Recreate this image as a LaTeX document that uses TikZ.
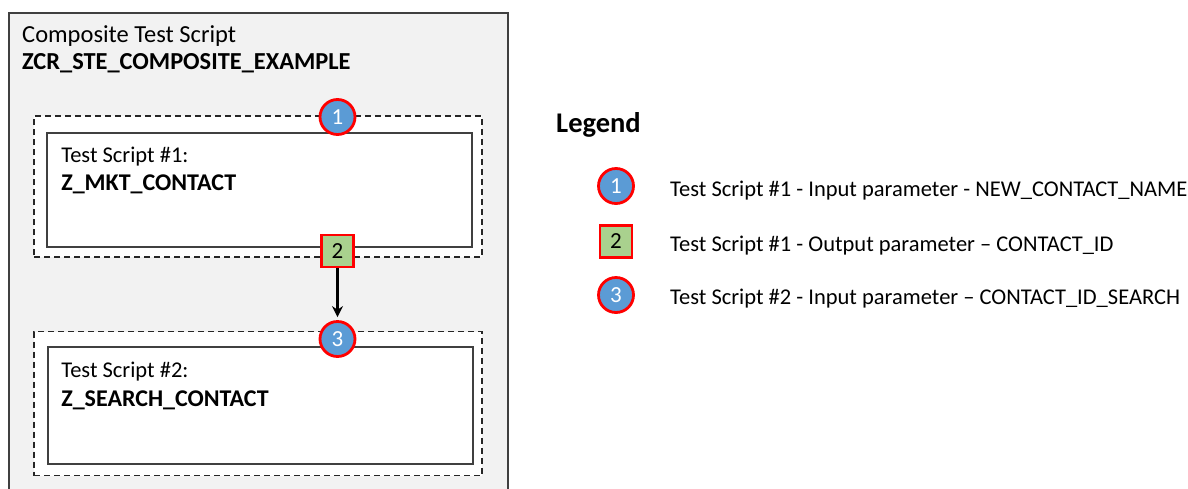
\documentclass[tikz,border=0pt]{standalone}
\usepackage{fontspec}
\setmainfont{Carlito}
\usetikzlibrary{positioning, arrows.meta}

\definecolor{framegray}{HTML}{404040}
\definecolor{panelgray}{HTML}{F2F2F2}
\definecolor{parblue}{HTML}{5B9BD5}
\definecolor{pargreen}{HTML}{A9D18E}
\definecolor{parred}{HTML}{FF0000}

\begin{document}
\begin{tikzpicture}[
		x=1pt, y=-1pt,
		>={Stealth[length=11pt, width=11pt]},
		panel/.style={rectangle, draw=framegray, line width=1.5pt, fill=panelgray, minimum width=499pt, minimum height=490pt, inner sep=0pt},
		slot/.style={rectangle, draw=black!85, line width=1.9pt, dash pattern=on 6pt off 4pt, fill=white, minimum width=448pt, inner sep=0pt},
		script/.style={rectangle, draw=framegray, line width=1.8pt, fill=white, minimum width=425pt, inner sep=0pt},
		inpar/.style={circle, draw=parred, line width=2.8pt, fill=parblue, minimum size=35pt, inner sep=0pt, text=white, font=\fontsize{23}{27}\selectfont},
		outpar/.style={rectangle, draw=parred, line width=2.8pt, fill=pargreen, minimum size=32pt, inner sep=0pt, font=\fontsize{23}{27}\selectfont},
		lbl/.style={anchor=base west, inner sep=0pt, font=\fontsize{22.5}{27}\selectfont},
		lblbold/.style={anchor=base west, inner sep=0pt, font=\fontsize{24}{29}\selectfont\bfseries},
		legtext/.style={anchor=base west, inner sep=0pt, font=\fontsize{22.5}{27}\selectfont},
		flow/.style={->, line width=2.4pt, shorten >=3pt}
	]

	\useasboundingbox (0,0) rectangle (1188,488);

	% Composite test script
	\node[panel] (composite) at (258.5, 258) {};
	\node[lbl, font=\fontsize{24.5}{29}\selectfont] (title) at (22, 42) {Composite Test Script};
	\node[lblbold, font=\fontsize{24.4}{29}\selectfont\bfseries] (titleid) at (22, 69) {ZCR\_STE\_COMPOSITE\_EXAMPLE};

	% Test script 1
	\node[slot, minimum height=141pt] (slot1) at (258, 186.5) {};
	\node[script, minimum height=114pt] (script1) at (259.5, 189.7) {};
	\node[lbl] (s1title) at ([shift={(15,30.5)}]script1.north west) {Test Script \#1:};
	\node[lblbold] (s1name) at ([shift={(15,59)}]script1.north west) {Z\_MKT\_CONTACT};

	% Test script 2
	\node[slot, minimum height=144pt] (slot2) at (258, 403.5) {};
	\node[script, minimum height=117pt] (script2) at (260.5, 405.7) {};
	\node[lbl] (s2title) at ([shift={(14,31.5)}]script2.north west) {Test Script \#2:};
	\node[lblbold] (s2name) at ([shift={(14,60)}]script2.north west) {Z\_SEARCH\_CONTACT};

	% Parameters
	\node[inpar] (in1) at (337.5, 117) {1};
	\node[outpar] (out1) at (337.5, 251) {2};
	\node[inpar] (in2) at (337.5, 339) {3};
	\draw[flow] (out1.south) -- (in2.north);

	% Legend
	\node[anchor=base west, inner sep=0pt, font=\fontsize{28.5}{33}\selectfont\bfseries] (legend) at (556, 132) {Legend};
	\node[inpar] (leg1) at (616, 186) {1};
	\node[outpar] (leg2) at (616, 241.5) {2};
	\node[inpar] (leg3) at (616, 295) {3};
	\node[legtext] (leg1txt) at (670, 196) {Test Script \#1 - Input parameter - NEW\_CONTACT\_NAME};
	\node[legtext] (leg2txt) at (670, 251) {Test Script \#1 - Output parameter – CONTACT\_ID};
	\node[legtext] (leg3txt) at (670, 304) {Test Script \#2 - Input parameter – CONTACT\_ID\_SEARCH};

\end{tikzpicture}
\end{document}
